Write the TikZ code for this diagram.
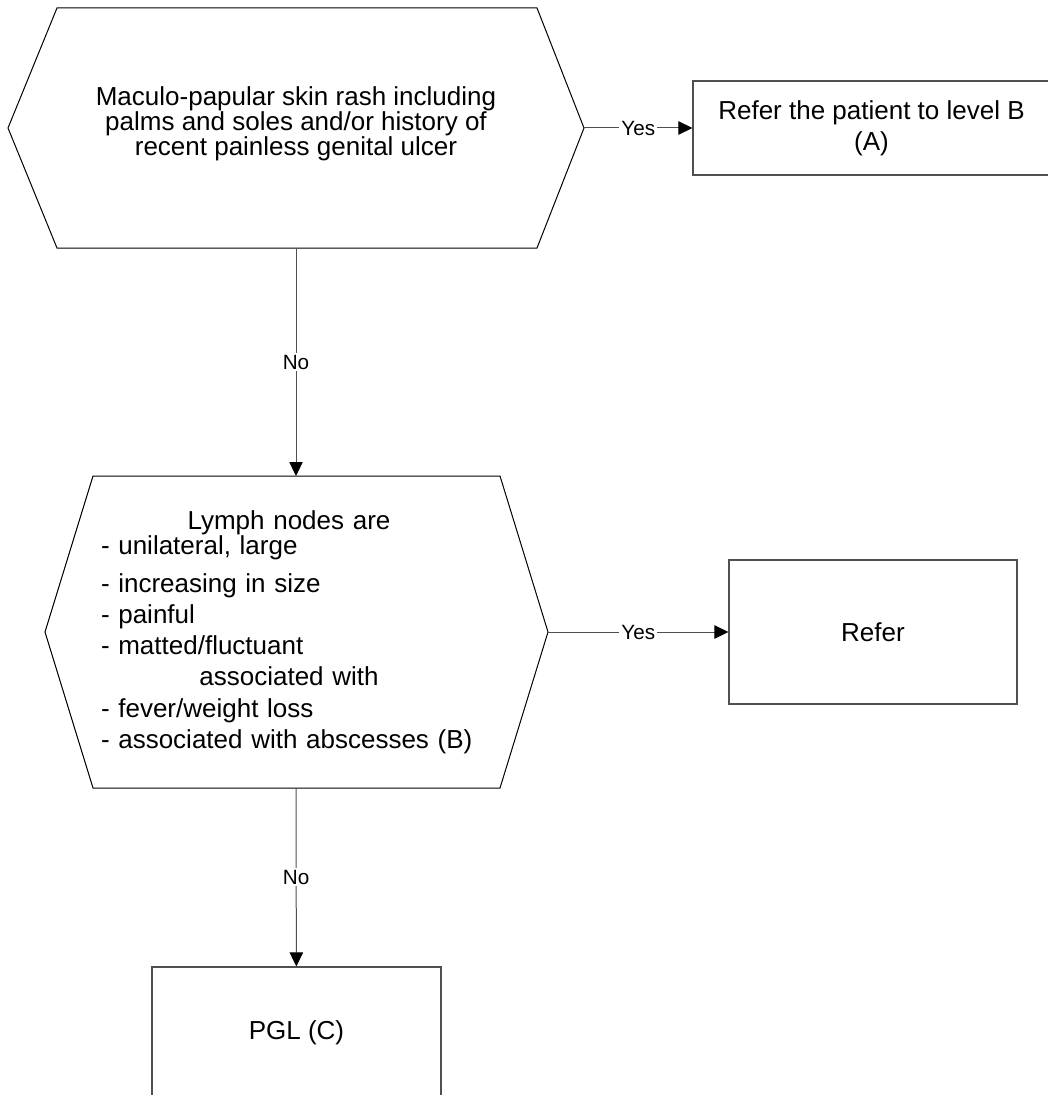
\documentclass[tikz,border=0pt]{standalone}
\usepackage{fontspec}
\setmainfont{Liberation Sans}
\usetikzlibrary{arrows.meta}
\definecolor{lineGrey}{RGB}{80, 80, 80}

\begin{document}
\begin{tikzpicture}[x=0.75pt, y=-0.75pt,
    txt/.style={align=center, font=\fontsize{19.5}{18.75}\selectfont},
    listtxt/.style={align=left, text width=282pt, inner sep=0pt, font=\fontsize{19.5}{23.4}\selectfont},
    outbox/.style={draw=lineGrey, line width=0.8pt, align=center, inner sep=0pt, font=\fontsize{19.5}{23.4}\selectfont},
    hexa/.style={line width=0.75pt},
    conn/.style={draw=lineGrey, line width=0.75pt, -{Triangle[length=10.5pt, width=10pt, color=black]}},
    lbl/.style={fill=white, inner sep=1.5pt, font=\fontsize{15.5}{18}\selectfont}]
  \useasboundingbox (0,0) rectangle (1048,1095);

  % First question
  \draw[hexa] (57,8) -- (537,8) -- (584,128) -- (537,248) -- (57,248) -- (8,128) -- cycle;
  \node[txt] (rash) at (296,124) {Maculo-papular skin rash including\\palms and soles and/or history of\\recent painless genital ulcer};
  \coordinate (rashE) at (584,128);
  \coordinate (rashS) at (296,248);

  % Refer to level B
  \node[outbox, minimum width=267.75pt, minimum height=70.5pt] (levelB) at (871.5,128) {Refer the patient to level B\\(A)};

  % Second question
  \draw[hexa] (93,476) -- (500,476) -- (548,632) -- (500,788) -- (93,788) -- (45,632) -- cycle;
  \node[listtxt] (lymph) at (289,632) {\makebox[\linewidth]{Lymph nodes are}\\[-4.6pt]
    - unilateral, large\\[5pt]
    - increasing in size\\
    - painful\\
    - matted/fluctuant\\
    \makebox[\linewidth]{associated with}\\
    - fever/weight loss\\
    - associated with abscesses (B)};
  \coordinate (lymphN) at (296,476);
  \coordinate (lymphE) at (548,632);
  \coordinate (lymphS) at (296,788);

  % Refer
  \node[outbox, minimum width=216pt, minimum height=108pt] (refer) at (873,632) {Refer};

  % PGL
  \node[outbox, minimum width=216.75pt, minimum height=99pt] (pgl) at (296.5,1033) {PGL (C)};

  % Connectors
  \draw[conn] (rashE) -- node[lbl] {Yes} (levelB);
  \draw[conn] (rashS) -- node[lbl] {No} (lymphN);
  \draw[conn] (lymphE) -- node[lbl] {Yes} (refer);
  \draw[conn] (lymphS) -- node[lbl] {No} (pgl);
\end{tikzpicture}
\end{document}
